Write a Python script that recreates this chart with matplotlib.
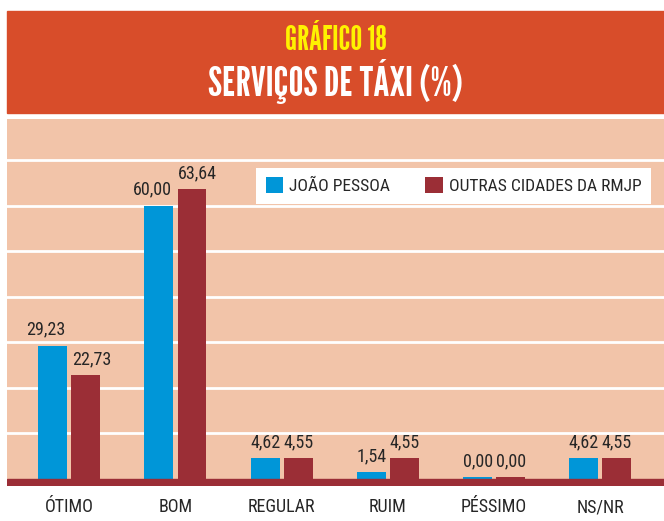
import numpy as np
import matplotlib
matplotlib.use("Agg")
import matplotlib.pyplot as plt
from matplotlib.patches import Rectangle

# dados do gráfico
categorias = ["ÓTIMO", "BOM", "REGULAR", "RUIM", "PÉSSIMO", "NS/NR"]
joao_pessoa = [29.23, 60.00, 4.62, 1.54, 0.00, 4.62]
outras_cidades = [22.73, 63.64, 4.55, 4.55, 0.00, 4.55]
series_nomes = ["JOÃO PESSOA", "OUTRAS CIDADES DA RMJP"]
titulo_1 = "GRÁFICO 18"
titulo_2 = "SERVIÇOS DE TÁXI (%)"

AZUL = "#0096D8"
VINHO = "#9B2E36"
LARANJA = "#D84D2A"
PESSEGO = "#F2C4A9"
TEXTO = "#262626"
AMARELO = "#FFF200"

plt.rcParams["font.family"] = ["Roboto Condensed", "DejaVu Sans"]

W, H = 664, 521
fig = plt.figure(figsize=(W / 100, H / 100), dpi=100)

# faixa do titulo
fig.patches.append(Rectangle((7 / W, 1 - 113 / H), 657 / W, 102 / H,
                             transform=fig.transFigure, color=LARANJA, zorder=0))
fig.text(335.5 / W, 1 - 41 / H, titulo_1, color=AMARELO, ha="center", va="center",
         fontsize=24, family=["League Gothic", "DejaVu Sans"])
fig.text(335.5 / W, 1 - 81 / H, titulo_2, color="white", ha="center", va="center",
         fontsize=30, family=["League Gothic", "DejaVu Sans"])

ax = fig.add_axes([7 / W, 1 - 486 / H, 657 / W, 367 / H])
ax.set_facecolor(PESSEGO)
for s in ax.spines.values():
    s.set_visible(False)

x = np.arange(len(categorias))
larg = 0.273
desl = 0.1554
b1 = ax.bar(x - desl, np.maximum(joao_pessoa, 0.45), larg, color=AZUL, zorder=3, label=series_nomes[0])
b2 = ax.bar(x + desl, np.maximum(outras_cidades, 0.45), larg, color=VINHO, zorder=3, label=series_nomes[1])

# faixa de base
ax.axhspan(-3, 0.0, color=VINHO, zorder=4)

ax.set_xlim(-0.5866, 5.5998)
ax.set_ylim(-1.536, 79.0)
ax.set_yticks(np.arange(10, 80, 10))
ax.yaxis.grid(True, color="white", lw=2)
ax.set_axisbelow(True)
ax.tick_params(axis="y", length=0, labelleft=False)
ax.set_xticks(x, categorias)
ax.tick_params(axis="x", length=0, pad=9, labelsize=13, labelcolor=TEXTO)

def fmt(v):
    return f"{v:.2f}".replace(".", ",")

for xs, vals, dx in [(x - desl, joao_pessoa, -5), (x + desl, outras_cidades, 4)]:
    for xi, v in zip(xs, vals):
        off = dx if v > 10 else 0
        ax.annotate(fmt(v), (xi, max(v, 0.45)), xytext=(off, 5), textcoords="offset points",
                    ha="center", va="bottom", fontsize=13, color=TEXTO, zorder=5)

leg = ax.legend(loc="upper right", bbox_to_anchor=(651 / W, 1 - 167.7 / H),
                bbox_transform=fig.transFigure, ncol=2, frameon=True, fancybox=False,
                framealpha=1, handlelength=1.0, handleheight=1.0,
                handletextpad=0.35, columnspacing=2.0, borderpad=0.55, borderaxespad=0,
                prop={"size": 12.6})
leg.get_frame().set_facecolor("white")
leg.get_frame().set_edgecolor("white")
leg.get_frame().set_linewidth(0)
for t in leg.get_texts():
    t.set_color(TEXTO)

fig.savefig("out.png", dpi=100)
